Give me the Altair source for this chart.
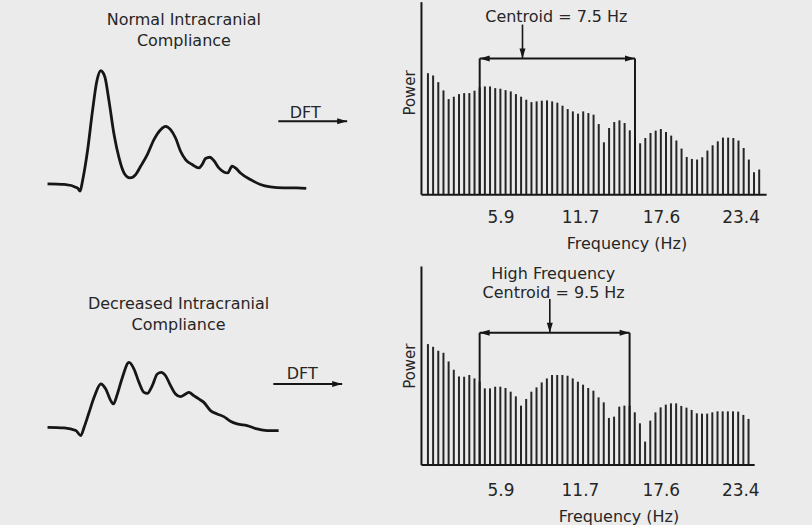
import altair as alt
import pandas as pd

FONT = "DejaVu Sans"
INK = "#161616"
BAR = "#262626"
TEXT = "#262626"
BG = "#ebebeb"

# DFT bins: first bin centre and bin spacing (Hz)
F0 = 0.605
DF = 0.3774
FREQ_TICKS = [5.9, 11.7, 17.6, 23.4]

# Power spectrum, normal compliance (arbitrary units)
POWER_NORMAL = [121.3, 119.0, 112.3, 104.0, 95.3, 97.7, 100.3, 101.3, 101.3, 103.7,
                107.0, 108.0, 108.0, 106.3, 105.7, 104.3, 103.0, 100.3, 97.7, 94.7,
                92.3, 93.0, 93.7, 94.0, 93.0, 91.7, 88.7, 85.3, 83.0, 80.7,
                83.0, 81.3, 79.7, 70.3, 52.0, 66.3, 72.3, 74.0, 71.3, 64.0,
                58.0, 51.0, 56.3, 61.3, 63.7, 65.3, 62.3, 58.7, 53.7, 45.7,
                37.3, 35.3, 34.7, 37.0, 43.7, 49.0, 53.0, 56.7, 56.7, 56.3,
                53.7, 46.3, 34.7, 22.0, 24.7]

# Power spectrum, decreased compliance (arbitrary units)
POWER_DECREASED = [120.7, 118.0, 114.0, 112.0, 103.3, 95.0, 88.3, 88.0, 89.7, 86.3,
                   83.0, 76.3, 76.3, 78.0, 78.0, 76.7, 73.0, 68.3, 59.0, 65.7,
                   73.0, 77.3, 82.3, 86.3, 89.7, 89.7, 89.7, 89.0, 86.3, 83.0,
                   80.0, 76.7, 74.0, 67.3, 62.3, 46.7, 48.0, 58.0, 59.0, 59.0,
                   52.3, 41.3, 23.0, 44.0, 52.3, 57.3, 60.0, 61.3, 61.3, 58.7,
                   57.0, 54.7, 51.3, 51.0, 51.0, 52.3, 53.3, 53.3, 53.3, 53.3,
                   53.0, 49.7, 45.7]

# Spectral centroids (Hz) and the bins bounding the high-frequency band
CENTROID_NORMAL = 7.5
CENTROID_DECREASED = 9.5
BAND_NORMAL = (10, 40)
BAND_DECREASED = (10, 39)

# ICP pulse waveforms: time (ms) and pressure
T_NORMAL = [0, 50, 90, 98, 105, 120, 135, 148, 160, 172, 185, 200, 215, 230, 248,
            265, 280, 300, 320, 340, 355, 370, 385, 400, 415, 435, 455, 465, 475,
            488, 500, 515, 530, 542, 555, 565, 580, 610, 640, 670, 710, 750, 778]
P_NORMAL = [1.72, 1.62, 1.05, 0.5, 2.17, 7.17, 13.83, 18.83, 20.62, 19.67, 15.5,
            9.95, 6.05, 3.55, 2.72, 3.28, 4.67, 6.62, 9.12, 10.78, 11.33, 10.78,
            9.38, 7.17, 5.78, 4.95, 4.38, 4.95, 5.95, 6.17, 5.62, 4.38, 3.72, 3.55,
            4.67, 4.38, 3.55, 2.45, 1.62, 1.22, 1.05, 1.05, 0.95]

T_DECREASED = [0, 50, 85, 100, 110, 125, 140, 160, 175, 190, 198, 210, 225, 245,
               260, 275, 290, 300, 315, 330, 342, 355, 370, 385, 400, 415, 425, 440,
               455, 470, 490, 510, 530, 550, 570, 600, 630, 660, 695]
P_DECREASED = [6.22, 6.12, 5.67, 4.83, 6.22, 8.72, 11.22, 13.45, 12.62, 10.67,
               10.12, 11.78, 14.55, 17.05, 15.95, 13.72, 12.05, 11.88, 13.17, 15.12,
               15.38, 14.83, 13.17, 11.78, 11.33, 11.78, 12.05, 11.5, 10.95, 10.38,
               9.0, 8.45, 8.0, 7.22, 6.78, 6.5, 5.95, 5.67, 5.67]

# arrowhead symbols (tip at the data point)
HEAD_RIGHT = "M0,0L-2,-0.6L-2,0.6Z"
HEAD_LEFT = "M0,0L2,-0.6L2,0.6Z"
HEAD_DOWN = "M0,0L-0.6,-2L0.6,-2Z"

WAVE_T_DOMAIN = [-80, 1060]
WAVE_WIDTH = 380
SPEC_X0 = 0.46


def wave_panel(t, p, captions, caption_t, caption_p, dft_t, dft_p, arrow_t, arrow_p,
               y_domain, height):
    xs = alt.Scale(domain=WAVE_T_DOMAIN, nice=False, zero=False)
    ys = alt.Scale(domain=y_domain, nice=False, zero=False)

    def X(f):
        return alt.X(f, type="quantitative", scale=xs, axis=None)

    def Y(f):
        return alt.Y(f, type="quantitative", scale=ys, axis=None)

    curve = alt.Chart(pd.DataFrame({"t": t, "p": p})).mark_line(
        color=INK, strokeWidth=2.8, interpolate="monotone"
    ).encode(x=X("t"), y=Y("p"))

    labels = pd.DataFrame({
        "t": [caption_t] * len(captions) + [dft_t],
        "p": list(caption_p) + [dft_p],
        "label": list(captions) + ["DFT"],
    })
    text = alt.Chart(labels).mark_text(
        font=FONT, fontSize=16, color=TEXT
    ).encode(x=X("t"), y=Y("p"), text="label:N")

    shaft = alt.Chart(pd.DataFrame({"t": [arrow_t[0]], "t2": [arrow_t[1]], "p": [arrow_p]})).mark_rule(
        color=INK, strokeWidth=2
    ).encode(x=X("t"), x2="t2:Q", y=Y("p"))
    head = alt.Chart(pd.DataFrame({"t": [arrow_t[1]], "p": [arrow_p]})).mark_point(
        shape=HEAD_RIGHT, filled=True, size=100, color=INK, opacity=1
    ).encode(x=X("t"), y=Y("p"))

    return alt.layer(curve, text, shaft, head).properties(width=WAVE_WIDTH, height=height)


def spectrum_panel(power, x_max, y_max, width, band, centroid, level, arrow_top,
                   notes, label_pad, title_x, power_title_y):
    freq = [round(F0 + k * DF, 4) for k in range(len(power))]
    xs = alt.Scale(domain=[SPEC_X0, x_max], nice=False, zero=False)
    ys = alt.Scale(domain=[0, y_max], nice=False, zero=False)
    x_axis = alt.Axis(
        values=FREQ_TICKS, format=".1f", ticks=False, tickSize=0, grid=False,
        domainColor=INK, domainWidth=2, labelFont=FONT, labelFontSize=17,
        labelColor=TEXT, labelPadding=label_pad, labelFlush=False,
        labelOverlap=False, title="Frequency (Hz)", titleFont=FONT,
        titleFontSize=16, titleFontWeight="normal", titleColor=TEXT,
        titleX=title_x, titlePadding=10)
    y_axis = alt.Axis(
        title="Power", labels=False, ticks=False, tickSize=0, grid=False,
        domainColor=INK, domainWidth=2, titleFont=FONT, titleFontSize=15,
        titleFontWeight="normal", titleColor=TEXT, titlePadding=3,
        titleY=power_title_y)

    # every layer shares the same scales and axes
    def X(f):
        return alt.X(f, type="quantitative", scale=xs, axis=x_axis)

    def Y(f):
        return alt.Y(f, type="quantitative", scale=ys, axis=y_axis)

    bars = alt.Chart(pd.DataFrame({"f": freq, "p": power})).mark_bar(
        size=2, color=BAR
    ).encode(x=X("f"), y=Y("p"))

    lo, hi = freq[band[0]], freq[band[1]]
    sides = alt.Chart(pd.DataFrame({"f": [lo, hi], "p": [0, 0], "p2": [level, level]})).mark_rule(
        color=INK, strokeWidth=2
    ).encode(x=X("f"), y=Y("p"), y2="p2:Q")
    span = alt.Chart(pd.DataFrame({"f": [lo], "f2": [hi], "p": [level]})).mark_rule(
        color=INK, strokeWidth=2
    ).encode(x=X("f"), x2="f2:Q", y=Y("p"))
    pointer = alt.Chart(pd.DataFrame({"f": [centroid], "p": [arrow_top], "p2": [level]})).mark_rule(
        color=INK, strokeWidth=1.6
    ).encode(x=X("f"), y=Y("p"), y2="p2:Q")
    heads = alt.Chart(pd.DataFrame({
        "f": [lo, hi, centroid],
        "p": [level, level, level],
        "shape": [HEAD_LEFT, HEAD_RIGHT, HEAD_DOWN],
    })).mark_point(filled=True, size=100, color=INK, opacity=1).encode(
        x=X("f"), y=Y("p"), shape=alt.Shape("shape:N", scale=None)
    )

    note_df = pd.DataFrame({
        "f": [n[0] for n in notes],
        "p": [n[1] for n in notes],
        "label": [n[2] for n in notes],
    })
    text = alt.Chart(note_df).mark_text(font=FONT, fontSize=16, color=TEXT).encode(
        x=X("f"), y=Y("p"), text="label:N"
    )

    return alt.layer(bars, sides, span, pointer, heads, text).properties(width=width, height=y_max)


top_wave = wave_panel(
    T_NORMAL, P_NORMAL, ["Normal Intracranial", "Compliance"], 410, [29.1, 25.6],
    775, 13.55, (694, 901), 12.17, [0, 193 / 6], 193)

top_spec = spectrum_panel(
    POWER_NORMAL, 24.9, 193, 346, BAND_NORMAL, CENTROID_NORMAL, 136, 170,
    [(9.97, 178, f"Centroid = {CENTROID_NORMAL} Hz")], 15, 206, 91)

bottom_wave = wave_panel(
    T_DECREASED, P_DECREASED, ["Decreased Intracranial", "Compliance"], 394, [26.83, 23.33],
    766, 15.17, (679, 886), 13.45, [0, 199 / 6], 199)

bottom_spec = spectrum_panel(
    POWER_DECREASED, 24.05, 199, 334, BAND_DECREASED, CENTROID_DECREASED, 132, 166,
    [(9.75, 190.7, "High Frequency"), (9.78, 171.7, f"Centroid = {CENTROID_DECREASED} Hz")],
    18, 198, 100)

chart = alt.concat(
    top_wave, top_spec, bottom_wave, bottom_spec,
    columns=2, spacing={"row": 72, "column": 21}, bounds="flush",
).properties(
    background=BG,
    padding={"left": 20, "top": 0, "right": 45, "bottom": 0},
).configure_view(stroke="transparent")

chart.save("out.html", embed_options={"renderer": "svg", "actions": False})
